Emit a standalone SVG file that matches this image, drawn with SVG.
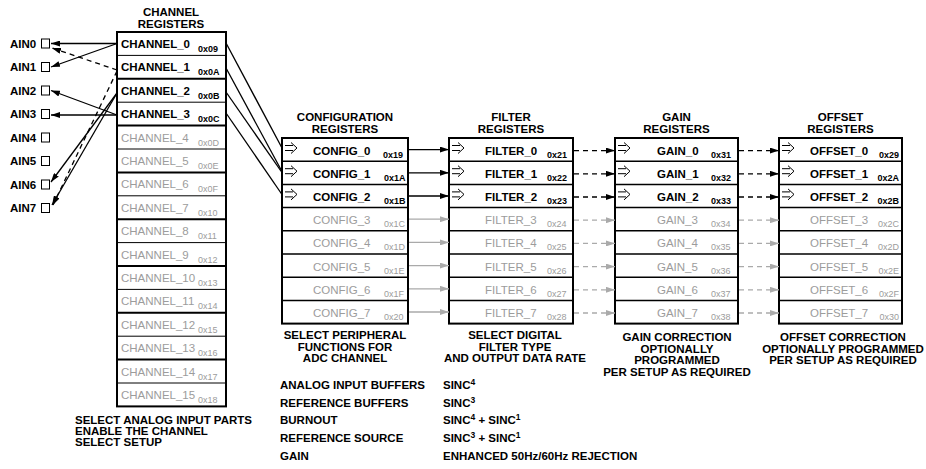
<svg xmlns="http://www.w3.org/2000/svg" width="926" height="469" viewBox="0 0 926 469">
<defs>
<style>
text{font-family:"Liberation Sans",Arial,Helvetica,sans-serif;font-weight:bold;font-size:11.5px;fill:#000}
.g{fill:#9c9c9c;font-weight:normal}
.ga{fill:#9c9c9c;font-weight:normal;font-size:9px}
.a{font-size:9px}
.c{text-anchor:middle}
.e{text-anchor:end}
.box{fill:#fff;stroke:#000;stroke-width:2}
.sep{stroke:#000;stroke-width:1.5;fill:none}
.sep1{stroke:#000;stroke-width:1;fill:none}
.sym{stroke:#000;stroke-width:1;fill:none}
.sq{fill:#fff;stroke:#000;stroke-width:1}
.ln{stroke:#000;stroke-width:1.3;fill:none}
.lg{stroke:#aaa;stroke-width:1.3;fill:none}
.dash{stroke-dasharray:5 4}
</style>
<marker id="ab" markerWidth="9" markerHeight="6" refX="9" refY="3" orient="auto" markerUnits="userSpaceOnUse"><path d="M0,0 L9,3 L0,6 z" fill="#000"/></marker>
<marker id="ag" markerWidth="9" markerHeight="6" refX="9" refY="3" orient="auto" markerUnits="userSpaceOnUse"><path d="M0,0 L9,3 L0,6 z" fill="#aaa"/></marker>
<marker id="ak" markerWidth="9" markerHeight="6" refX="9" refY="3" orient="auto" markerUnits="userSpaceOnUse"><path d="M0,0 L9,3 L0,6 z" fill="#000"/></marker>
</defs>
<rect width="926" height="469" fill="#fff"/>

<!-- AIN pins -->
<g id="ain0"><text x="10" y="47.5">AIN0</text><rect class="sq" x="41.5" y="39" width="8" height="9"/></g>
<g id="ain1"><text x="10" y="71">AIN1</text><rect class="sq" x="41.5" y="62.5" width="8" height="9"/></g>
<g id="ain2"><text x="10" y="94.5">AIN2</text><rect class="sq" x="41.5" y="86" width="8" height="9"/></g>
<g id="ain3"><text x="10" y="118">AIN3</text><rect class="sq" x="41.5" y="109.5" width="8" height="9"/></g>
<g id="ain4"><text x="10" y="141.5">AIN4</text><rect class="sq" x="41.5" y="133" width="8" height="9"/></g>
<g id="ain5"><text x="10" y="165">AIN5</text><rect class="sq" x="41.5" y="156.5" width="8" height="9"/></g>
<g id="ain6"><text x="10" y="188.5">AIN6</text><rect class="sq" x="41.5" y="180" width="8" height="9"/></g>
<g id="ain7"><text x="10" y="212">AIN7</text><rect class="sq" x="41.5" y="203.5" width="8" height="9"/></g>

<!-- Channel registers -->
<g id="channel-registers">
<text class="c" x="171" y="16">CHANNEL</text>
<text class="c" x="171" y="27.5">REGISTERS</text>
<rect class="box" x="117" y="32" width="109" height="374.4"/>
<path class="sep1" d="M117,55.4H226M117,102.2H226M117,149H226M117,195.8H226M117,242.6H226M117,289.4H226M117,336.2H226M117,383H226"/>
<path class="sep" d="M117,78.8H226M117,125.6H226M117,172.4H226M117,219.2H226M117,266H226M117,312.8H226M117,359.6H226" style="stroke-width:2"/>
<text x="121" y="48">CHANNEL_0</text><text class="a" x="198" y="52">0x09</text>
<text x="121" y="71.4">CHANNEL_1</text><text class="a" x="198" y="75.4">0x0A</text>
<text x="121" y="94.8">CHANNEL_2</text><text class="a" x="198" y="98.8">0x0B</text>
<text x="121" y="118.2">CHANNEL_3</text><text class="a" x="198" y="122.2">0x0C</text>
<text class="g" x="121" y="141.6">CHANNEL_4</text><text class="ga" x="198" y="145.6">0x0D</text>
<text class="g" x="121" y="165">CHANNEL_5</text><text class="ga" x="198" y="169">0x0E</text>
<text class="g" x="121" y="188.4">CHANNEL_6</text><text class="ga" x="198" y="192.4">0x0F</text>
<text class="g" x="121" y="211.8">CHANNEL_7</text><text class="ga" x="198" y="215.8">0x10</text>
<text class="g" x="121" y="235.2">CHANNEL_8</text><text class="ga" x="198" y="239.2">0x11</text>
<text class="g" x="121" y="258.6">CHANNEL_9</text><text class="ga" x="198" y="262.6">0x12</text>
<text class="g" x="121" y="282">CHANNEL_10</text><text class="ga" x="198" y="286">0x13</text>
<text class="g" x="121" y="305.4">CHANNEL_11</text><text class="ga" x="198" y="309.4">0x14</text>
<text class="g" x="121" y="328.8">CHANNEL_12</text><text class="ga" x="198" y="332.8">0x15</text>
<text class="g" x="121" y="352.2">CHANNEL_13</text><text class="ga" x="198" y="356.2">0x16</text>
<text class="g" x="121" y="375.6">CHANNEL_14</text><text class="ga" x="198" y="379.6">0x17</text>
<text class="g" x="121" y="399">CHANNEL_15</text><text class="ga" x="198" y="403">0x18</text>
<text x="75" y="424">SELECT ANALOG INPUT PARTS</text>
<text x="75" y="435">ENABLE THE CHANNEL</text>
<text x="75" y="446">SELECT SETUP</text>
</g>

<!-- Configuration registers -->
<g id="config-registers">
<text class="c" x="345" y="121">CONFIGURATION</text>
<text class="c" x="345" y="132.5">REGISTERS</text>
<rect class="box" x="282" y="138" width="126" height="185.6"/>
<path class="sep" d="M282,161.2H408M282,184.4H408M282,207.6H408M282,230.8H408M282,254H408M282,277.2H408M282,300.4H408"/>
<path class="sym" d="M285,145.5H293M285,150.5H293M291,142.5L297,148L291,153.5M285,168.7H293M285,173.7H293M291,165.7L297,171.2L291,176.7M285,191.9H293M285,196.9H293M291,188.9L297,194.4L291,199.9"/>
<text x="313" y="154.5">CONFIG_0</text><text class="a" x="383" y="157.5">0x19</text>
<text x="313" y="177.7">CONFIG_1</text><text class="a" x="384" y="180.7">0x1A</text>
<text x="313" y="200.9">CONFIG_2</text><text class="a" x="384" y="203.9">0x1B</text>
<text class="g" x="313" y="224.1">CONFIG_3</text><text class="ga" x="384" y="227.1">0x1C</text>
<text class="g" x="313" y="247.3">CONFIG_4</text><text class="ga" x="384" y="250.3">0x1D</text>
<text class="g" x="313" y="270.5">CONFIG_5</text><text class="ga" x="384" y="273.5">0x1E</text>
<text class="g" x="313" y="293.7">CONFIG_6</text><text class="ga" x="384" y="296.7">0x1F</text>
<text class="g" x="313" y="316.9">CONFIG_7</text><text class="ga" x="384" y="319.9">0x20</text>
<text class="c" x="345" y="339">SELECT PERIPHERAL</text>
<text class="c" x="345" y="350.5">FUNCTIONS FOR</text>
<text class="c" x="345" y="362">ADC CHANNEL</text>
<text x="280" y="389">ANALOG INPUT BUFFERS</text>
<text x="280" y="406.5">REFERENCE BUFFERS</text>
<text x="280" y="424">BURNOUT</text>
<text x="280" y="442">REFERENCE SOURCE</text>
<text x="280" y="460">GAIN</text>
</g>

<!-- Filter registers -->
<g id="filter-registers">
<text class="c" x="511" y="121">FILTER</text>
<text class="c" x="511" y="132.5">REGISTERS</text>
<rect class="box" x="449" y="138" width="124" height="185.6"/>
<path class="sep" d="M449,161.2H573M449,184.4H573M449,207.6H573M449,230.8H573M449,254H573M449,277.2H573M449,300.4H573"/>
<path class="sym" d="M452,145.5H460M452,150.5H460M458,142.5L464,148L458,153.5M452,168.7H460M452,173.7H460M458,165.7L464,171.2L458,176.7M452,191.9H460M452,196.9H460M458,188.9L464,194.4L458,199.9"/>
<text x="485" y="154.5">FILTER_0</text><text class="a" x="547" y="157.5">0x21</text>
<text x="485" y="177.7">FILTER_1</text><text class="a" x="547" y="180.7">0x22</text>
<text x="485" y="200.9">FILTER_2</text><text class="a" x="547" y="203.9">0x23</text>
<text class="g" x="485" y="224.1">FILTER_3</text><text class="ga" x="547" y="227.1">0x24</text>
<text class="g" x="485" y="247.3">FILTER_4</text><text class="ga" x="547" y="250.3">0x25</text>
<text class="g" x="485" y="270.5">FILTER_5</text><text class="ga" x="547" y="273.5">0x26</text>
<text class="g" x="485" y="293.7">FILTER_6</text><text class="ga" x="547" y="296.7">0x27</text>
<text class="g" x="485" y="316.9">FILTER_7</text><text class="ga" x="547" y="319.9">0x28</text>
<text class="c" x="515" y="339">SELECT DIGITAL</text>
<text class="c" x="515" y="350.5">FILTER TYPE</text>
<text class="c" x="515" y="362">AND OUTPUT DATA RATE</text>
<text x="443" y="389">SINC<tspan dy="-4" font-size="8.5">4</tspan></text>
<text x="443" y="406.5">SINC<tspan dy="-4" font-size="8.5">3</tspan></text>
<text x="443" y="424">SINC<tspan dy="-4" font-size="8.5">4</tspan><tspan dy="4"> + SINC</tspan><tspan dy="-4" font-size="8.5">1</tspan></text>
<text x="443" y="442">SINC<tspan dy="-4" font-size="8.5">3</tspan><tspan dy="4"> + SINC</tspan><tspan dy="-4" font-size="8.5">1</tspan></text>
<text x="443" y="460">ENHANCED 50Hz/60Hz REJECTION</text>
</g>

<!-- Gain registers -->
<g id="gain-registers">
<text class="c" x="676.5" y="121">GAIN</text>
<text class="c" x="676.5" y="132.5">REGISTERS</text>
<rect class="box" x="615" y="138" width="123" height="185.6"/>
<path class="sep" d="M615,161.2H738M615,184.4H738M615,207.6H738M615,230.8H738M615,254H738M615,277.2H738M615,300.4H738"/>
<path class="sym" d="M618,145.5H626M618,150.5H626M624,142.5L630,148L624,153.5M618,168.7H626M618,173.7H626M624,165.7L630,171.2L624,176.7M618,191.9H626M618,196.9H626M624,188.9L630,194.4L624,199.9"/>
<text x="657" y="154.5">GAIN_0</text><text class="a" x="711" y="157.5">0x31</text>
<text x="657" y="177.7">GAIN_1</text><text class="a" x="711" y="180.7">0x32</text>
<text x="657" y="200.9">GAIN_2</text><text class="a" x="711" y="203.9">0x33</text>
<text class="g" x="657" y="224.1">GAIN_3</text><text class="ga" x="711" y="227.1">0x34</text>
<text class="g" x="657" y="247.3">GAIN_4</text><text class="ga" x="711" y="250.3">0x35</text>
<text class="g" x="657" y="270.5">GAIN_5</text><text class="ga" x="711" y="273.5">0x36</text>
<text class="g" x="657" y="293.7">GAIN_6</text><text class="ga" x="711" y="296.7">0x37</text>
<text class="g" x="657" y="316.9">GAIN_7</text><text class="ga" x="711" y="319.9">0x38</text>
<text class="c" x="677" y="341">GAIN CORRECTION</text>
<text class="c" x="677" y="352.5">OPTIONALLY</text>
<text class="c" x="677" y="364">PROGRAMMED</text>
<text class="c" x="677" y="375.5">PER SETUP AS REQUIRED</text>
</g>

<!-- Offset registers -->
<g id="offset-registers">
<text class="c" x="840.5" y="121">OFFSET</text>
<text class="c" x="840.5" y="132.5">REGISTERS</text>
<rect class="box" x="779" y="138" width="123" height="185.6"/>
<path class="sep" d="M779,161.2H902M779,184.4H902M779,207.6H902M779,230.8H902M779,254H902M779,277.2H902M779,300.4H902"/>
<path class="sym" d="M782,145.5H790M782,150.5H790M788,142.5L794,148L788,153.5M782,168.7H790M782,173.7H790M788,165.7L794,171.2L788,176.7M782,191.9H790M782,196.9H790M788,188.9L794,194.4L788,199.9"/>
<text x="810" y="154.5">OFFSET_0</text><text class="a e" x="899" y="157.5">0x29</text>
<text x="810" y="177.7">OFFSET_1</text><text class="a e" x="899" y="180.7">0x2A</text>
<text x="810" y="200.9">OFFSET_2</text><text class="a e" x="899" y="203.9">0x2B</text>
<text class="g" x="810" y="224.1">OFFSET_3</text><text class="ga e" x="899" y="227.1">0x2C</text>
<text class="g" x="810" y="247.3">OFFSET_4</text><text class="ga e" x="899" y="250.3">0x2D</text>
<text class="g" x="810" y="270.5">OFFSET_5</text><text class="ga e" x="899" y="273.5">0x2E</text>
<text class="g" x="810" y="293.7">OFFSET_6</text><text class="ga e" x="899" y="296.7">0x2F</text>
<text class="g" x="810" y="316.9">OFFSET_7</text><text class="ga e" x="899" y="319.9">0x30</text>
<text class="c" x="843" y="341">OFFSET CORRECTION</text>
<text class="c" x="843" y="352.5">OPTIONALLY PROGRAMMED</text>
<text class="c" x="843" y="364">PER SETUP AS REQUIRED</text>
</g>

<!-- Connectors -->
<g id="connectors">
<line class="ln" x1="117" y1="43.5" x2="51" y2="43.5" marker-end="url(#ak)"/>
<line class="ln" x1="117" y1="43.5" x2="51" y2="67" marker-end="url(#ak)"/>
<line class="ln dash" x1="117" y1="70" x2="52" y2="48" marker-end="url(#ak)"/>
<line class="ln dash" x1="117" y1="71" x2="53" y2="205" marker-end="url(#ak)"/>
<line class="ln" x1="117" y1="93" x2="51" y2="182" marker-end="url(#ak)"/>
<line class="ln" x1="117" y1="93" x2="52" y2="205" marker-end="url(#ak)"/>
<line class="ln" x1="117" y1="115" x2="51" y2="90.5" marker-end="url(#ak)"/>
<line class="ln" x1="117" y1="115" x2="51" y2="115" marker-end="url(#ak)"/>
<line class="ln" x1="226" y1="43" x2="282" y2="148"/>
<line class="ln" x1="226" y1="68" x2="282" y2="171.5"/>
<line class="ln" x1="226" y1="92" x2="282" y2="172.5"/>
<line class="ln" x1="226" y1="113" x2="282" y2="194.5"/>
<line class="ln" x1="409" y1="149.6" x2="449" y2="149.6" marker-end="url(#ab)"/>
<line class="ln" x1="409" y1="172.8" x2="449" y2="172.8" marker-end="url(#ab)"/>
<line class="ln" x1="409" y1="196" x2="449" y2="196" marker-end="url(#ab)"/>
<line class="lg" x1="409" y1="219.2" x2="449" y2="219.2" marker-end="url(#ag)"/>
<line class="lg" x1="409" y1="242.4" x2="449" y2="242.4" marker-end="url(#ag)"/>
<line class="lg" x1="409" y1="265.6" x2="449" y2="265.6" marker-end="url(#ag)"/>
<line class="lg" x1="409" y1="288.8" x2="449" y2="288.8" marker-end="url(#ag)"/>
<line class="lg" x1="409" y1="312" x2="449" y2="312" marker-end="url(#ag)"/>
<line class="ln dash" x1="574" y1="150.6" x2="615" y2="150.6" marker-end="url(#ab)"/>
<line class="ln dash" x1="574" y1="173.8" x2="615" y2="173.8" marker-end="url(#ab)"/>
<line class="ln dash" x1="574" y1="197" x2="615" y2="197" marker-end="url(#ab)"/>
<line class="lg dash" x1="574" y1="220.2" x2="615" y2="220.2" marker-end="url(#ag)"/>
<line class="lg dash" x1="574" y1="243.4" x2="615" y2="243.4" marker-end="url(#ag)"/>
<line class="lg dash" x1="574" y1="266.6" x2="615" y2="266.6" marker-end="url(#ag)"/>
<line class="lg dash" x1="574" y1="289.8" x2="615" y2="289.8" marker-end="url(#ag)"/>
<line class="lg dash" x1="574" y1="313" x2="615" y2="313" marker-end="url(#ag)"/>
<line class="ln dash" x1="739" y1="150.6" x2="779" y2="150.6" marker-end="url(#ab)"/>
<line class="ln dash" x1="739" y1="173.8" x2="779" y2="173.8" marker-end="url(#ab)"/>
<line class="ln dash" x1="739" y1="197" x2="779" y2="197" marker-end="url(#ab)"/>
<line class="lg dash" x1="739" y1="220.2" x2="779" y2="220.2" marker-end="url(#ag)"/>
<line class="lg dash" x1="739" y1="243.4" x2="779" y2="243.4" marker-end="url(#ag)"/>
<line class="lg dash" x1="739" y1="266.6" x2="779" y2="266.6" marker-end="url(#ag)"/>
<line class="lg dash" x1="739" y1="289.8" x2="779" y2="289.8" marker-end="url(#ag)"/>
<line class="lg dash" x1="739" y1="313" x2="779" y2="313" marker-end="url(#ag)"/>
</g>
</svg>
